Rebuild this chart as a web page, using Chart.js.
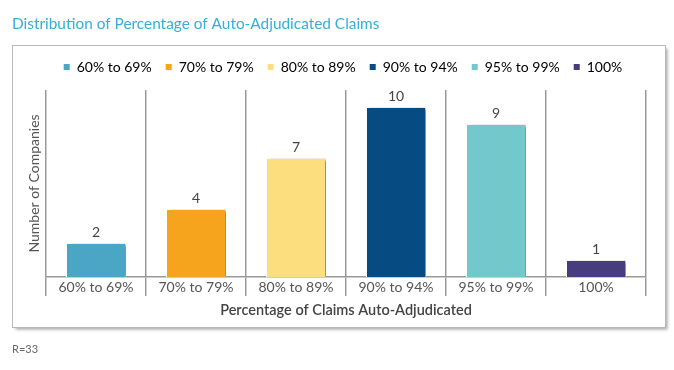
<!DOCTYPE html>
<html><head><meta charset="utf-8">
<script src="https://cdn.jsdelivr.net/npm/chart.js@4.4.0/dist/chart.umd.min.js"></script>
<style>html,body{margin:0;padding:0;background:#fff;}#wrap{width:674px;height:370px;}</style>
</head><body><div id="wrap"><canvas id="c" width="674" height="370"></canvas></div>
<script>
const TITLE = "Distribution of Percentage of Auto-Adjudicated Claims";
const FOOTNOTE = "R=33";
const categories = ["60% to 69%", "70% to 79%", "80% to 89%", "90% to 94%", "95% to 99%", "100%"];
const companies = [2, 4, 7, 10, 9, 1];
const barColors = ["#4BA6C5", "#F6A31E", "#FDDE7F", "#064B81", "#72C8CA", "#463C7E"];
const xAxisTitle = "Percentage of Claims Auto-Adjudicated";
const yAxisTitle = "Number of Companies";
const FONT = "Lato, 'Open Sans', sans-serif";

const framePlugin = {
  id: 'frame',
  beforeLayout(chart) {
    const lg = chart.legend;
    if (lg && !lg._patched) {
      const f = lg.fit;
      lg.fit = function () { f.call(this); this.height += 6; };
      lg._patched = true;
    }
  },
  beforeDraw(chart) {
    const ctx = chart.ctx;
    ctx.save();
    ctx.fillStyle = '#fff';
    ctx.fillRect(0, 0, chart.width, chart.height);
    ctx.shadowColor = 'rgba(0,0,0,0.35)';
    ctx.shadowBlur = 3;
    ctx.shadowOffsetX = 2;
    ctx.shadowOffsetY = 2;
    ctx.fillStyle = '#fff';
    ctx.fillRect(12.5, 45.5, 653, 282);
    ctx.shadowColor = 'transparent';
    ctx.strokeStyle = '#b8b8b8';
    ctx.lineWidth = 1;
    ctx.strokeRect(12.5, 45.5, 653, 282);
    ctx.fillStyle = '#36AEDA';
    ctx.font = "15.4px " + FONT;
    ctx.textBaseline = 'middle';
    ctx.textAlign = 'left';
    ctx.fillText(TITLE, 12, 24);
    ctx.fillStyle = '#666';
    ctx.font = "11px " + FONT;
    ctx.fillText(FOOTNOTE, 12, 349);
    ctx.restore();
  },
  beforeDatasetsDraw(chart) {
    const ctx = chart.ctx;
    ctx.save();
    ctx.shadowColor = 'rgba(0,0,0,0.45)';
    ctx.shadowBlur = 3;
    ctx.shadowOffsetX = 3;
    ctx.shadowOffsetY = 1;
  },
  afterDatasetsDraw(chart) {
    const ctx = chart.ctx;
    ctx.restore();
    ctx.save();
    ctx.fillStyle = '#444';
    ctx.font = "14px " + FONT;
    ctx.textAlign = 'center';
    ctx.textBaseline = 'bottom';
    const meta = chart.getDatasetMeta(0);
    meta.data.forEach((bar, i) => {
      ctx.fillText(String(companies[i]), bar.x, bar.y - 4);
    });
    ctx.restore();
  }
};

new Chart(document.getElementById('c'), {
  type: 'bar',
  data: {
    labels: categories,
    datasets: [{
      data: companies,
      backgroundColor: barColors,
      borderColor: '#ffffff',
      borderWidth: 1,
      borderSkipped: 'bottom',
      barPercentage: 0.6,
      categoryPercentage: 1.0
    }]
  },
  options: {
    responsive: false,
    animation: false,
    devicePixelRatio: 1,
    layout: { padding: { left: 26, right: 14, top: 46, bottom: 50 } },
    plugins: {
      title: { display: false },
      tooltip: { enabled: false },
      legend: {
        display: true,
        position: 'top',
        labels: {
          boxWidth: 6,
          boxHeight: 6,
          padding: 14,
          color: '#555',
          font: { family: FONT, size: 14 },
          generateLabels: (chart) => categories.map((c, i) => ({
            text: c, fillStyle: barColors[i], strokeStyle: barColors[i], lineWidth: 0, hidden: false, index: i
          }))
        },
        onClick: () => {}
      }
    },
    scales: {
      x: {
        grid: { display: true, offset: true, color: '#999', lineWidth: 1.5, drawOnChartArea: true, drawTicks: true, tickLength: 19 },
        border: { display: true, color: '#999', width: 1.5 },
        ticks: { color: '#555', font: { family: FONT, size: 14 }, padding: -17 },
        title: { display: true, text: xAxisTitle, color: '#444', font: { family: FONT, size: 14.5, weight: '600' }, padding: { top: 2, bottom: 1 } },
        afterFit: (s) => { s.height = 43; }
      },
      y: {
        min: 0, max: 11,
        grid: { display: false },
        border: { display: false },
        ticks: { display: false },
        title: { display: true, text: yAxisTitle, color: '#555', font: { family: FONT, size: 14 }, padding: { top: 0, bottom: 0 } },
        afterFit: (s) => { s.width = 20; }
      },
      yr: {
        position: 'right',
        display: true,
        min: 0, max: 11,
        grid: { display: false },
        border: { display: false },
        ticks: { display: false },
        afterFit: (s) => { s.width = 14; }
      }
    }
  },
  plugins: [framePlugin]
});
</script></body></html>
